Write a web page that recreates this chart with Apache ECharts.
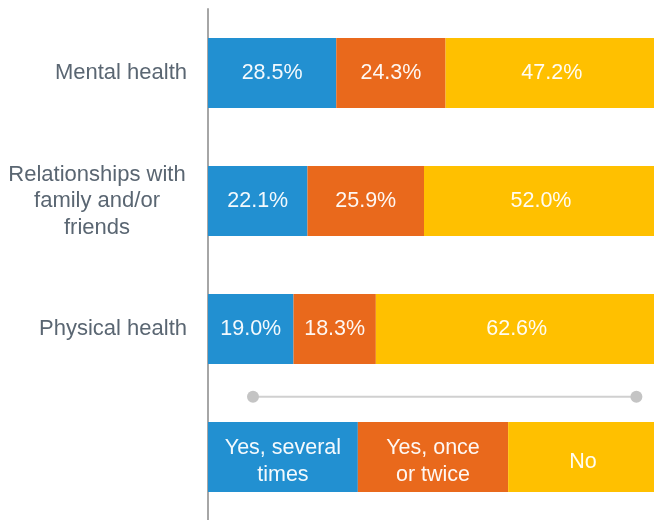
<!DOCTYPE html>
<html>
<head>
<meta charset="utf-8">
<script src="https://cdn.jsdelivr.net/npm/echarts@6/dist/echarts.min.js"></script>
<style>
  html, body { margin: 0; padding: 0; background: #ffffff; }
  #chart { width: 654px; height: 520px; }
</style>
</head>
<body>
<div id="chart"></div>
<script>
// Topics asked about, top to bottom; the last row is the colour key
const categories = ['Mental health', 'Relationships with family and/or friends', 'Physical health', ''];
const seriesNames = ['Yes, several times', 'Yes, once or twice', 'No'];
const keyLabels = ['Yes, several\ntimes', 'Yes, once\nor twice', 'No'];

// Shares (%) per answer, one value per topic
const severalTimes = [28.5, 22.1, 19.0];
const onceOrTwice = [24.3, 25.9, 18.3];
const never = [47.2, 52.0, 62.6];

// Widths of the key segments
const keyShare = [33.3, 33.4, 33.3];

// Horizontal span of the divider rule, in axis percent
const dividerSpan = [10, 95.2];

const colors = ['#2290D1', '#E9691C', '#FFC000'];
const values = [severalTimes, onceOrTwice, never];
const FONT = 'Liberation Sans, Arial, sans-serif';

const chart = echarts.init(document.getElementById('chart'), null, { renderer: 'canvas' });

const series = seriesNames.map((name, i) => ({
  name: name,
  type: 'bar',
  stack: 'total',
  barWidth: 70,
  itemStyle: { color: colors[i] },
  label: {
    show: true,
    position: 'inside',
    color: 'rgba(255,255,255,0.95)',
    fontFamily: FONT,
    fontSize: 21.5,
    lineHeight: 27,
    align: 'center',
    formatter: p => p.dataIndex === categories.length - 1
      ? keyLabels[i]
      : p.value.toFixed(1) + '%'
  },
  data: values[i].map(v => v).concat([{
    value: keyShare[i],
    label: { offset: [0, 5] }
  }])
}));

chart.setOption({
  animation: false,
  // the plot runs slightly past the right edge, so no clamping to the container
  grid: { left: 208, top: 9, width: 450, height: 512, outerBoundsMode: 'none' },
  xAxis: {
    type: 'value',
    min: 0,
    max: 100,
    show: false
  },
  yAxis: {
    type: 'category',
    inverse: true,
    data: categories,
    axisLine: { show: true, lineStyle: { color: '#a6a6a6', width: 2 } },
    axisTick: { show: false },
    axisLabel: {
      margin: 21,
      color: '#5A6672',
      fontFamily: FONT,
      fontSize: 22,
      formatter: v => v === 'Relationships with family and/or friends'
        ? '{m|Relationships with}\n{m|family and/or}\n{m|friends}'
        : v,
      rich: {
        m: {
          width: 180,
          align: 'center',
          lineHeight: 26.5,
          fontSize: 22,
          color: '#5A6672',
          fontFamily: FONT
        }
      }
    }
  },
  series: series
});

// Divider rule between the topic rows and the key row
function drawDivider() {
  const yTop = chart.convertToPixel({ yAxisIndex: 0 }, categories[2]);
  const yBot = chart.convertToPixel({ yAxisIndex: 0 }, categories[3]);
  const y = yTop + (yBot - yTop) * 0.53;
  const x1 = chart.convertToPixel({ xAxisIndex: 0 }, dividerSpan[0]);
  const x2 = chart.convertToPixel({ xAxisIndex: 0 }, dividerSpan[1]);
  chart.setOption({
    graphic: [
      { type: 'line', shape: { x1: x1, y1: y, x2: x2, y2: y }, style: { stroke: '#d0d0d0', lineWidth: 2 } },
      { type: 'circle', shape: { cx: x1, cy: y, r: 6 }, style: { fill: '#c4c4c4' } },
      { type: 'circle', shape: { cx: x2, cy: y, r: 6 }, style: { fill: '#c4c4c4' } }
    ]
  });
}
drawDivider();
</script>
</body>
</html>
